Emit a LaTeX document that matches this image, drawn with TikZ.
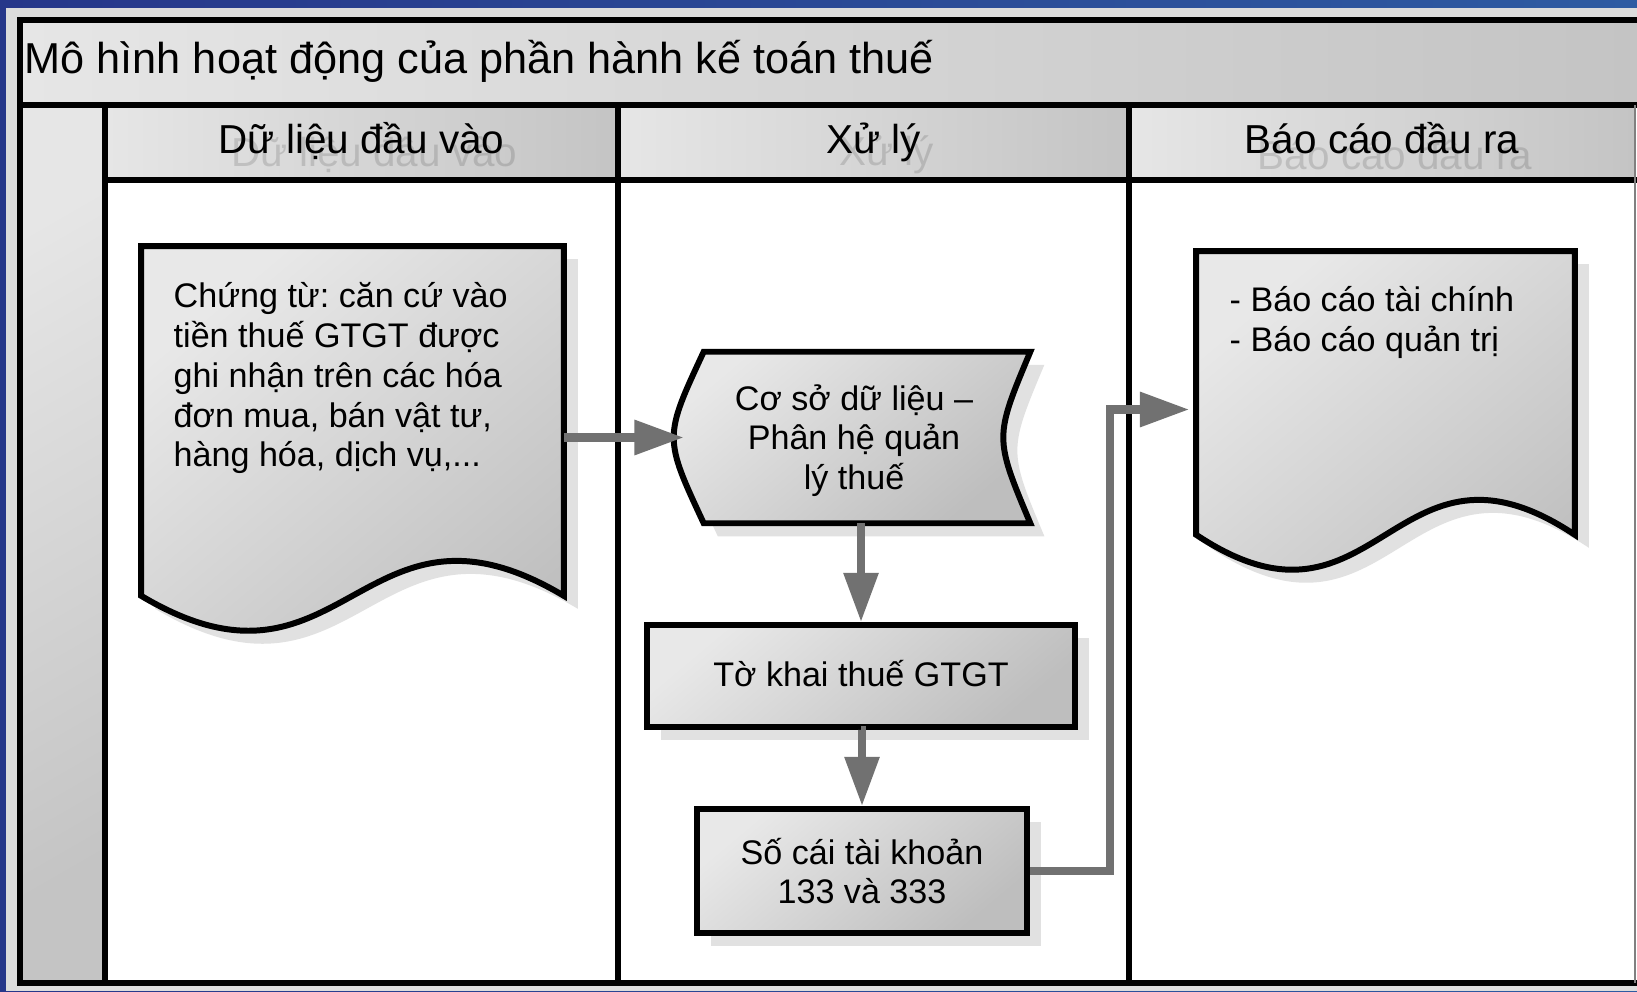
\documentclass[tikz,border=0pt]{standalone}
\usepackage{fontspec}
\setmainfont{Liberation Sans}
\usetikzlibrary{calc}
\usetikzlibrary{arrows.meta}
\usetikzlibrary{shadows}

\definecolor{navyL}{HTML}{26378A}
\definecolor{navyR}{HTML}{2E5BA2}
\definecolor{rim}{HTML}{DCDCDC}
\definecolor{headlt}{HTML}{E6E6E6}
\definecolor{headdk}{HTML}{C4C4C4}
\definecolor{boxlt}{HTML}{E8E8E8}
\definecolor{boxdk}{HTML}{BEBEBE}
\definecolor{shadowc}{HTML}{E1E1E1}
\definecolor{flowc}{HTML}{717171}

\tikzset{
  every node/.style={inner sep=0pt},
  lane/.style={line width=1.7pt},
  hdr/.style={font=\fontsize{11.5}{13}\selectfont, text height=8.5pt, text depth=2.5pt,
    left color=headlt, right color=headdk, minimum height=0.75cm},
  ghost/.style={font=\fontsize{11.5}{13}\selectfont, text=black, text opacity=0.13},
  txt/.style={font=\fontsize{9.7}{11.3}\selectfont},
  shapefill/.style={draw=black, line width=1.7pt, top color=boxlt, bottom color=boxdk, shading angle=40,
    drop shadow={shadow xshift=4pt, shadow yshift=-3.7pt, fill=shadowc, opacity=1}},
  procbox/.style={shapefill, txt},
  flow/.style={draw=flowc, line width=2.3pt, -{Triangle[length=14pt,width=9.5pt]}}
}

% document outline with a wavy foot
\newcommand{\docshape}[1]{%
  \draw[shapefill] (#1.north west) -- (#1.north east) -- ($(#1.south east)+(0,-33)$)
    .. controls ($(#1.south west)!0.52!(#1.south east)+(0,-154)$)
    and ($(#1.south west)!0.48!(#1.south east)+(0,88)$) .. ($(#1.south west)+(0,-33)$) -- cycle;}

\begin{document}
\frenchspacing
\begin{tikzpicture}[x=0.01cm, y=-0.01cm]
\useasboundingbox (0,0) rectangle (1637,991);
% frame and pool
\shade[left color=navyL, right color=navyR] (0,0) rectangle (1637,991);
\fill[rim] (6,8) rectangle (1637,991);
\fill[white] (20,20) rectangle (1637,983);
\shade[left color=headlt, right color=headdk] (20,20) rectangle (1637,105);
\shade[top color=headlt, bottom color=headdk, shading angle=30] (20,105) rectangle (105,983);
\node[anchor=base west, font=\fontsize{12.3}{14}\selectfont] (title) at (24,74) {Mô hình hoạt động của phần hành kế toán thuế};
\foreach \nm/\x/\w/\lab in {hin/361.5/5.13/Dữ liệu đầu vào, hproc/873.5/5.11/Xử lý, hout/1382/5.06/Báo cáo đầu ra} {
  \node[hdr, minimum width=\w cm] (\nm) at (\x,142.5) {\lab};
  \node[ghost] (\nm-g) at ($(\nm)+(13,12)$) {\lab};
}
\draw[lane] (1637,20) -- (20,20) -- (20,983) -- (1637,983);
\draw[lane] (20,105) -- (1637,105);
\draw[lane] (105,180) -- (1637,180);
\foreach \x in {105,618,1129} \draw[lane] (\x,105) -- (\x,983);
\draw[gray, line width=0.6pt] (1635,105) -- (1635,983);

% input lane
\node[minimum width=4.21cm, minimum height=3.81cm] (doc1) at (352.5,437.5) {};
\docshape{doc1}
\node[txt, anchor=north west, align=left] (doc1-t) at (173,282) {Chứng từ: căn cứ vào\\tiền thuế GTGT được\\ghi nhận trên các hóa\\đơn mua, bán vật tư,\\hàng hóa, dịch vụ,...};

% processing lane
\node[minimum width=3.45cm, minimum height=1.7cm] (store) at (857,437.5) {};
\draw[shapefill] ($(store.north west)+(20,0)$) -- (store.north east)
  .. controls ($(store.east)+(-36,0)$) .. (store.south east)
  -- ($(store.south west)+(20,0)$)
  .. controls ($(store.west)+(-20,0)$) .. ($(store.north west)+(20,0)$) -- cycle;
\node[txt, align=center] (store-t) at ($(store)+(-3,3)$) {Cơ sở dữ liệu –\\Phân hệ quản\\lý thuế};
\node[procbox, minimum width=4.27cm, minimum height=1.02cm, text height=8pt, text depth=2.2pt] (tax) at (861,676) {Tờ khai thuế GTGT};
\node[procbox, minimum width=3.30cm, minimum height=1.24cm, align=center] (ledger) at (862,871) {Số cái tài khoản\\133 và 333};

% output lane
\node[minimum width=3.77cm, minimum height=3.15cm] (doc2) at (1385.5,409.5) {};
\docshape{doc2}
\node[txt, anchor=north west, align=left] (doc2-t) at (1229,286) {- Báo cáo tài chính\\- Báo cáo quản trị};

% flows
\draw[flow] (doc1.east) -- (store.west);
\draw[flow] (store.south -| tax.north) -- (tax.north);
\draw[flow] (tax.south) -- (tax.south -| ledger.north) -- (ledger.north);
\draw[flow, shorten >=2pt] (ledger.east) -- ++(80,0) |- (doc2.west);
\end{tikzpicture}
\end{document}
